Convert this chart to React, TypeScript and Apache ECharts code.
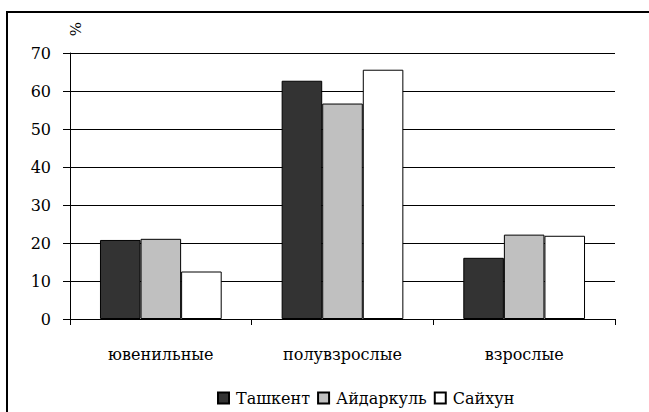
import React, { useEffect, useRef } from "react";
import * as echarts from "echarts";

const categories = ["ювенильные", "полувзрослые", "взрослые"];
const seriesNames = ["Ташкент", "Айдаркуль", "Сайхун"];
const tashkent = [20.8, 62.7, 16.1];
const aidarkul = [21.1, 56.7, 22.2];
const saikhun = [12.5, 65.6, 21.9];
const yTicks = { min: 0, max: 70, interval: 10 };
const yName = "%";

const colors = ["#333333", "#c0c0c0", "#ffffff"];
const FONT = "DejaVu Serif";
const FS = 16;

export default function App() {
  const ref = useRef<HTMLDivElement>(null);
  useEffect(() => {
    if (!ref.current) return;
    const chart = echarts.init(ref.current, undefined, { renderer: "svg" });
    const values = [tashkent, aidarkul, saikhun];
    chart.setOption({
      animation: false,
      backgroundColor: "#ffffff",
      textStyle: { fontFamily: FONT, color: "#000" },
      grid: { left: 70, right: 34, top: 53, bottom: 93, containLabel: false },
      legend: {
        left: 212,
        top: 385,
        itemWidth: 11,
        itemHeight: 11,
        itemGap: 7,
        icon: "rect",
        textStyle: { fontFamily: FONT, fontSize: FS, color: "#000", padding: [0, 0, 0, 2] },
        data: seriesNames,
      },
      xAxis: {
        type: "category",
        data: categories,
        boundaryGap: true,
        axisLine: { show: true, lineStyle: { color: "#000", width: 1 } },
        axisTick: { show: true, length: 6, inside: false, lineStyle: { color: "#000" } },
        axisLabel: { fontFamily: FONT, fontSize: FS, color: "#000", margin: 27 },
        splitLine: { show: false },
      },
      yAxis: {
        type: "value",
        min: yTicks.min,
        max: yTicks.max,
        interval: yTicks.interval,
        axisLine: { show: true, lineStyle: { color: "#000", width: 1 } },
        axisTick: { show: true, length: 7, inside: false, lineStyle: { color: "#000" } },
        axisLabel: { fontFamily: FONT, fontSize: FS, color: "#000", margin: 19 },
        splitLine: { show: true, lineStyle: { color: "#000", width: 1 } },
      },
      series: seriesNames.map((name, i) => ({
        name,
        type: "bar",
        data: values[i],
        barGap: "0%",
        barCategoryGap: "33%",
        itemStyle: { color: colors[i], borderColor: "#000", borderWidth: 1 },
      })),
      graphic: [
        {
          type: "rect",
          shape: { x: 7, y: 12, width: 700, height: 500 },
          style: { fill: "none", stroke: "#000", lineWidth: 2 },
          silent: true,
        },
        {
          type: "text",
          x: 76,
          y: 29,
          rotation: Math.PI / 2,
          style: {
            text: yName,
            fontFamily: FONT,
            fontSize: 15,
            fill: "#000",
            align: "center",
            verticalAlign: "middle",
          },
        },
      ],
    });
    return () => chart.dispose();
  }, []);
  return (
    <div
      ref={ref}
      style={{ position: "fixed", left: 0, top: 0, width: 649, height: 412 }}
    />
  );
}
